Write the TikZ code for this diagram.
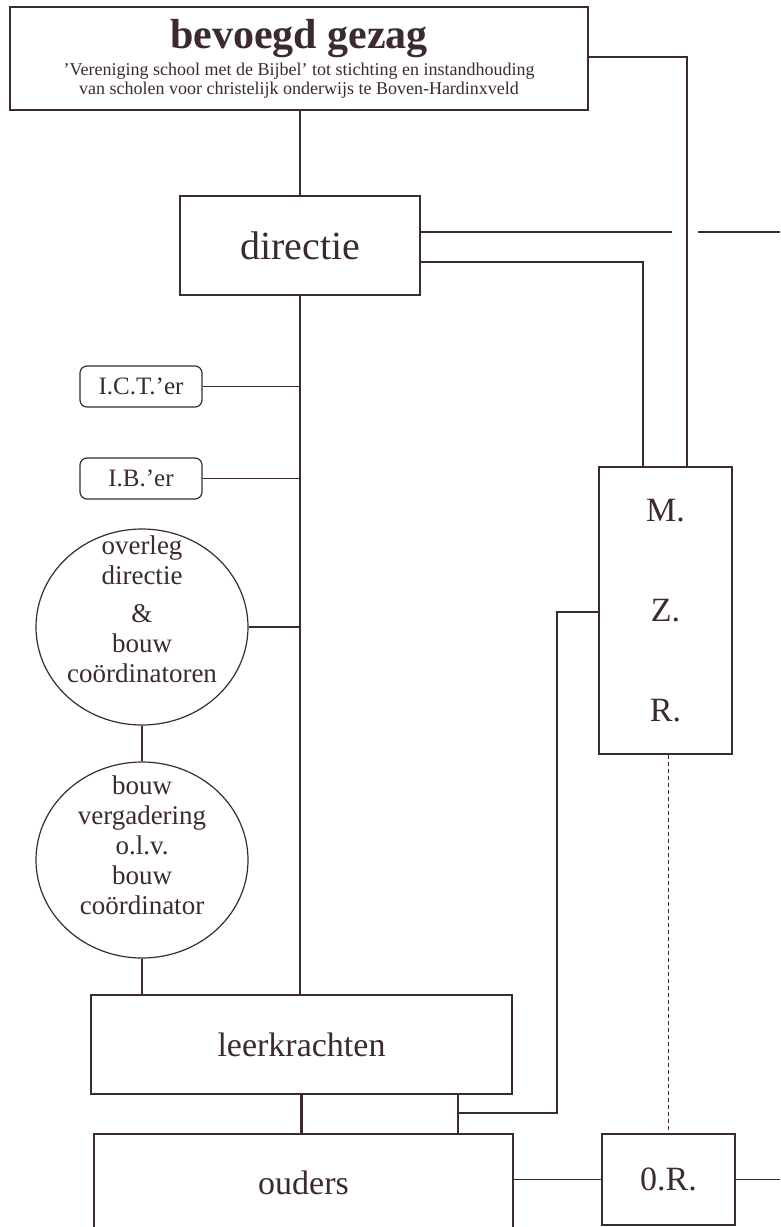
\documentclass[tikz,border=0pt]{standalone}
\usepackage{fontspec}
\setmainfont{Liberation Serif}
\usetikzlibrary{shapes.geometric}

\newlength{\du}
\setlength{\du}{1\unitlength}
\definecolor{dialinecolor}{rgb}{0.230000, 0.165000, 0.185000}

\tikzset{
  kader/.style={rectangle, draw=dialinecolor, line width=2.4\du, inner sep=0pt, text=dialinecolor},
  dunkader/.style={rectangle, draw=dialinecolor, line width=1.5\du, inner sep=0pt, text=dialinecolor},
  rondkader/.style={rectangle, draw=dialinecolor, line width=1.2\du, rounded corners=7\du, inner sep=0pt,
    text=dialinecolor, minimum width=122\du, minimum height=41\du, font=\fontsize{25}{30}\selectfont},
  bol/.style={ellipse, draw=dialinecolor, line width=1.2\du, minimum width=212\du, minimum height=196\du, inner sep=0pt},
  boltekst/.style={align=center, text=dialinecolor, inner sep=0pt, font=\fontsize{27}{30}\selectfont},
  lijn/.style={draw=dialinecolor, line width=1.2\du},
  diklijn/.style={draw=dialinecolor, line width=2.6\du},
  stippellijn/.style={lijn, dash pattern=on 4\du off 3\du},
}

\begin{document}
\begin{tikzpicture}
\pgftransformxscale{1.000000}
\pgftransformyscale{-1.000000}
\path[use as bounding box, fill=white] (0\du,0\du) rectangle (780\du,1227\du);
% boxes
\node[kader, minimum width=578\du, minimum height=103\du, align=center, font=\fontsize{18}{19}\selectfont] (gezag) at (299\du,58.5\du)
  {\fontsize{42}{42}\selectfont\bfseries bevoegd gezag\\[4\du]
   'Vereniging school met de Bijbel' tot stichting en instandhouding\\
   van scholen voor christelijk onderwijs te Boven-Hardinxveld};
\node[kader, minimum width=240\du, minimum height=99\du, font=\fontsize{40}{44}\selectfont] (directie) at (300\du,245.5\du) {directie};
\node[rondkader] (ict) at (141\du,386.5\du) {I.C.T.'er};
\node[rondkader] (ib) at (141\du,478.5\du) {I.B.'er};
\node[bol] (overleg) at (142\du,627\du) {};
\node[boltekst] (overlegtekst) at (142\du,609\du) {overleg\\directie\\[8\du]\&\\bouw\\coördinatoren};
\node[bol] (bouwverg) at (142\du,860\du) {};
\node[boltekst] (bouwvergtekst) at (142\du,845\du) {bouw\\vergadering\\o.l.v.\\bouw\\coördinator};
\node[kader, minimum width=421\du, minimum height=99\du, font=\fontsize{34}{40}\selectfont] (leerkr) at (301.5\du,1044.5\du) {leerkrachten};
\node[kader, minimum width=419\du, minimum height=98\du, font=\fontsize{34}{40}\selectfont] (ouders) at (303.5\du,1183\du) {ouders};
\node[dunkader, minimum width=133\du, minimum height=287\du, align=center, font=\fontsize{34}{100}\selectfont] (mzr) at (665.5\du,610.5\du) {M.\\Z.\\R.};
\node[dunkader, minimum width=133\du, minimum height=91\du, font=\fontsize{34}{40}\selectfont] (or) at (668.5\du,1179.5\du) {0.R.};
% bends and free ends
\coordinate (gk) at (687\du,57\du);
\coordinate (brugL) at (672\du,232\du);
\coordinate (brugR) at (698\du,232\du);
\coordinate (rand) at (780\du,232\du);
\coordinate (dk) at (643\du,262\du);
\coordinate (lo) at (458\du,1113\du);
\coordinate (zl) at (557\du,612\du);
% lines
\draw[diklijn] (directie.north |- gezag.south) -- (directie.north);
\draw[diklijn] (directie.south) -- (directie.south |- leerkr.north);
\draw[diklijn] (leerkr.south) -- (leerkr.south |- ouders.north);
\draw[lijn] (ict.east) -- (ict.east -| directie.south);
\draw[lijn] (ib.east) -- (ib.east -| directie.south);
\draw[lijn] (overleg.east) -- (overleg.east -| directie.south);
\draw[lijn] (overleg.south) -- (bouwverg.north);
\draw[lijn] (bouwverg.south) -- (bouwverg.south |- leerkr.north);
\draw[lijn] (gezag.east |- gk) -- (gk) -- (gk |- mzr.north);
\draw[lijn] (directie.east |- brugL) -- (brugL);
\draw[lijn] (brugR) -- (rand);
\draw[lijn] (directie.east |- dk) -- (dk) -- (dk |- mzr.north);
\draw[lijn] (lo |- leerkr.south) -- (lo |- ouders.north);
\draw[lijn] (lo) -| (zl) -- (zl -| mzr.west);
\draw[stippellijn] (or.north |- mzr.south) -- (or.north);
\draw[lijn] (ouders.east |- or.west) -- (or.west);
\draw[lijn] (or.east) -- (or.east -| rand);
\end{tikzpicture}
\end{document}
